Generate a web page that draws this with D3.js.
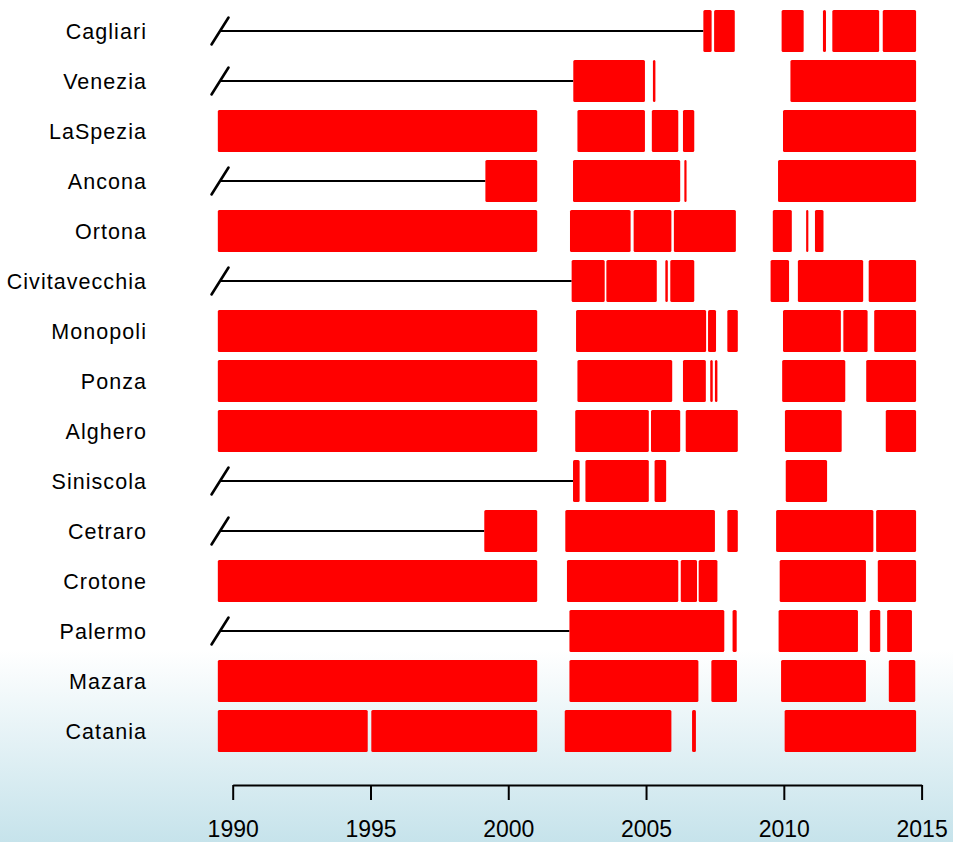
<!DOCTYPE html>
<html>
<head>
<meta charset="utf-8">
<script src="https://cdn.jsdelivr.net/npm/d3@7/dist/d3.min.js"></script>
<style>
  html, body { margin: 0; padding: 0; background: #fff; }
  svg { display: block; }
</style>
</head>
<body>
<svg id="chart" width="953" height="842"></svg>
<script>
// Tide-gauge stations, top to bottom
const stations = ["Cagliari", "Venezia", "LaSpezia", "Ancona", "Ortona", "Civitavecchia",
  "Monopoli", "Ponza", "Alghero", "Siniscola", "Cetraro", "Crotone", "Palermo", "Mazara", "Catania"];

// Periods with available records (decimal years, start-end)
const cagliari = [[2007.08, 2007.38], [2007.47, 2008.22], [2009.92, 2010.72], [2011.42, 2011.53], [2011.76, 2013.46], [2013.59, 2014.80]];
const venezia = [[2002.36, 2004.96], [2005.25, 2005.34], [2010.24, 2014.80]];
const laspezia = [[1989.46, 2001.05], [2002.51, 2004.96], [2005.21, 2006.17], [2006.34, 2006.75], [2009.97, 2014.80]];
const ancona = [[1999.17, 2001.05], [2002.35, 2006.24], [2006.39, 2006.47], [2009.79, 2014.80]];
const ortona = [[1989.46, 2001.05], [2002.24, 2004.44], [2004.55, 2005.92], [2006.01, 2008.26], [2009.60, 2010.29], [2010.81, 2010.89], [2011.13, 2011.44]];
const civitavecchia = [[2002.30, 2003.50], [2003.56, 2005.39], [2005.70, 2005.79], [2005.88, 2006.75], [2009.52, 2010.19], [2010.51, 2012.88], [2013.08, 2014.80]];
const monopoli = [[1989.46, 2001.05], [2002.46, 2007.18], [2007.25, 2007.54], [2007.95, 2008.33], [2009.97, 2012.07], [2012.16, 2013.04], [2013.28, 2014.80]];
const ponza = [[1989.46, 2001.05], [2002.51, 2005.95], [2006.34, 2007.17], [2007.33, 2007.42], [2007.50, 2007.59], [2009.94, 2012.23], [2012.99, 2014.80]];
const alghero = [[1989.46, 2001.05], [2002.43, 2005.10], [2005.18, 2006.24], [2006.44, 2008.33], [2010.04, 2012.10], [2013.70, 2014.80]];
const siniscola = [[2002.35, 2002.59], [2002.80, 2005.10], [2005.31, 2005.73], [2010.07, 2011.57]];
const cetraro = [[1999.13, 2001.05], [2002.07, 2007.50], [2007.95, 2008.33], [2009.72, 2013.25], [2013.35, 2014.80]];
const crotone = [[1989.46, 2001.05], [2002.13, 2006.17], [2006.26, 2006.85], [2006.91, 2007.59], [2009.85, 2012.98], [2013.41, 2014.80]];
const palermo = [[2002.22, 2007.84], [2008.14, 2008.29], [2009.81, 2012.69], [2013.12, 2013.50], [2013.75, 2014.65]];
const mazara = [[1989.46, 2001.05], [2002.22, 2006.90], [2007.37, 2008.30], [2009.90, 2012.98], [2013.81, 2014.77]];
const catania = [[1989.46, 1994.90], [1995.03, 2001.05], [2002.05, 2005.92], [2006.67, 2006.81], [2010.03, 2014.80]];

const periodsByStation = [cagliari, venezia, laspezia, ancona, ortona, civitavecchia,
  monopoli, ponza, alghero, siniscola, cetraro, crotone, palermo, mazara, catania];

const yearTicks = [1990, 1995, 2000, 2005, 2010, 2015];
const seriesStart = 1989.46;   // first year shown on the time line
const breakStart = 1989.54;    // where the "no record" connector begins

const rows = stations.map((name, i) => ({ name, periods: periodsByStation[i] }));

const svg = d3.select("#chart");
const W = 953, H = 842;

// soft blue wash toward the bottom of the panel
const defs = svg.append("defs");
const grad = defs.append("linearGradient")
  .attr("id", "bg").attr("x1", 0).attr("y1", 0).attr("x2", 0).attr("y2", 1);
grad.append("stop").attr("offset", "0%").attr("stop-color", "#ffffff");
grad.append("stop").attr("offset", (650 / H * 100) + "%").attr("stop-color", "#ffffff");
grad.append("stop").attr("offset", "100%").attr("stop-color", "#c6e3eb");
svg.append("rect").attr("width", W).attr("height", H).attr("fill", "url(#bg)");

const x = d3.scaleLinear().domain([1990, 2015]).range([232.7, 921.6]);
const y = d3.scaleBand().domain(stations).range([6, 756]).paddingInner(0.16).paddingOuter(0.08);

// station labels
svg.append("g").selectAll("text")
  .data(rows).join("text")
  .attr("x", 147)
  .attr("y", d => y(d.name) + y.bandwidth() / 2)
  .attr("dy", "0.36em")
  .attr("text-anchor", "end")
  .attr("font-family", "Liberation Sans, Arial, sans-serif")
  .attr("font-size", 21.5)
  .attr("letter-spacing", "1.05px")
  .attr("fill", "#000")
  .text(d => d.name);

// connector with break mark for stations whose record starts later
const late = rows.filter(d => d.periods[0][0] > seriesStart + 0.01);
const conn = svg.append("g");
conn.selectAll("line.conn")
  .data(late).join("line")
  .attr("class", "conn")
  .attr("x1", x(breakStart))
  .attr("x2", d => x(d.periods[0][0]))
  .attr("y1", d => y(d.name) + y.bandwidth() / 2)
  .attr("y2", d => y(d.name) + y.bandwidth() / 2)
  .attr("stroke", "#000").attr("stroke-width", 2);
conn.selectAll("line.brk")
  .data(late).join("line")
  .attr("class", "brk")
  .attr("x1", x(breakStart) - 8.5)
  .attr("x2", x(breakStart) + 8.5)
  .attr("y1", d => y(d.name) + y.bandwidth() / 2 + 13.5)
  .attr("y2", d => y(d.name) + y.bandwidth() / 2 - 13.5)
  .attr("stroke", "#000").attr("stroke-width", 2.6).attr("stroke-linecap", "round");

// record periods
svg.append("g").selectAll("g")
  .data(rows).join("g")
  .selectAll("rect")
  .data(d => d.periods.map(p => ({ name: d.name, s: p[0], e: p[1] })))
  .join("rect")
  .attr("x", d => x(d.s))
  .attr("width", d => Math.max(1, x(d.e) - x(d.s)))
  .attr("y", d => y(d.name))
  .attr("height", y.bandwidth())
  .attr("rx", 1.5)
  .attr("fill", "#ff0000");

// time axis
const axis = d3.axisBottom(x).tickValues(yearTicks).tickFormat(d3.format("d"))
  .tickSize(15).tickSizeOuter(0).tickPadding(21);
const ax = svg.append("g").attr("transform", "translate(0,785)").call(axis);
ax.select(".domain").attr("stroke", "#000").attr("stroke-width", 2);
ax.selectAll(".tick line").attr("stroke", "#000").attr("stroke-width", 2);
ax.selectAll(".tick text")
  .attr("font-family", "Liberation Sans, Arial, sans-serif")
  .attr("font-size", 23)
  .attr("fill", "#000");
</script>
</body>
</html>
